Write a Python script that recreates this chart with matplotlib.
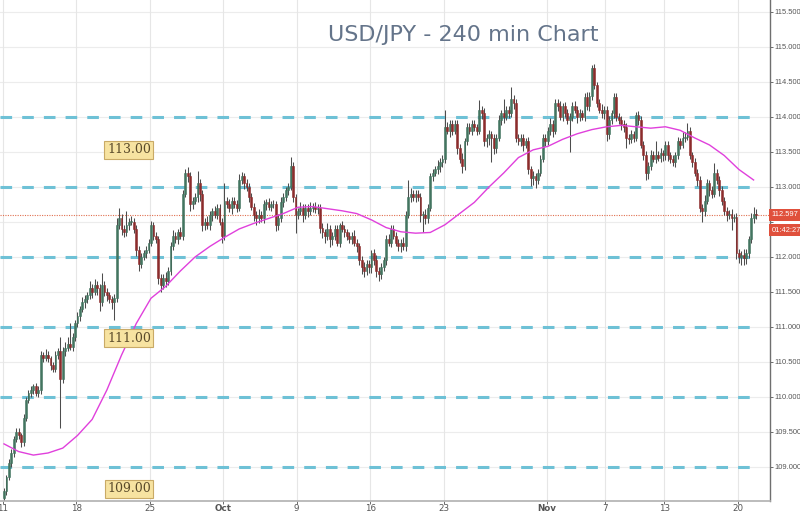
import matplotlib
matplotlib.use("Agg")
import matplotlib.pyplot as plt
import matplotlib.transforms as mtransforms
from matplotlib import font_manager
import numpy as np

# ---------------- data ----------------
title = "USD/JPY - 240 min Chart"
first_open = 108.55
closes = [
    108.65, 108.85, 109.05, 109.2, 109.4, 109.5, 109.45, 109.35, 109.7, 109.95,
    110.05, 110.1, 110.15, 110.05, 110.1, 110.6, 110.55, 110.6, 110.55, 110.45,
    110.4, 110.6, 110.65, 110.25, 110.65, 110.7, 110.75, 110.72, 110.85, 111.05,
    111.15, 111.25, 111.35, 111.4, 111.45, 111.55, 111.5, 111.6, 111.55, 111.35,
    111.6, 111.5, 111.45, 111.4, 111.35, 111.42, 112.45, 112.55, 112.4, 112.35,
    112.45, 112.5, 112.5, 112.4, 112.1, 111.9, 112.0, 112.05, 112.1, 112.2,
    112.45, 112.3, 112.25, 111.7, 111.6, 111.7, 111.65, 111.8, 112.15, 112.3,
    112.25, 112.35, 112.3, 112.9, 113.2, 113.15, 112.75, 112.8, 112.85, 113.05,
    112.9, 112.45, 112.5, 112.45, 112.6, 112.65, 112.6, 112.7, 112.5, 112.3,
    112.8, 112.75, 112.7, 112.8, 112.75, 112.7, 113.1, 113.15, 113.05, 113.0,
    112.85, 112.72, 112.6, 112.55, 112.6, 112.55, 112.75, 112.78, 112.72, 112.75,
    112.75, 112.45, 112.55, 112.78, 112.85, 112.95, 113.0, 113.3, 112.85, 112.6,
    112.65, 112.7, 112.6, 112.7, 112.65, 112.7, 112.72, 112.68, 112.7, 112.42,
    112.35, 112.3, 112.4, 112.25, 112.3, 112.4, 112.2, 112.45, 112.4, 112.35,
    112.3, 112.25, 112.3, 112.2, 112.15, 111.95, 111.85, 111.8, 111.9, 111.85,
    112.05, 111.95, 111.8, 111.75, 111.85, 111.95, 112.25, 112.2, 112.4, 112.3,
    112.2, 112.15, 112.2, 112.15, 112.6, 112.85, 112.9, 112.85, 112.9, 112.85,
    112.6, 112.6, 112.55, 112.7, 113.15, 113.2, 113.25, 113.3, 113.35, 113.4,
    113.85, 113.8, 113.9, 113.8, 113.9, 113.55, 113.4, 113.3, 113.65, 113.85,
    113.8, 113.9, 113.85, 113.8, 114.1, 114.05, 113.65, 113.7, 113.75, 113.7,
    113.55, 113.7, 113.95, 114.05, 114.0, 114.1, 114.05, 114.25, 114.2, 113.7,
    113.65, 113.7, 113.6, 113.65, 113.25, 113.13, 113.15, 113.1, 113.2, 113.4,
    113.7, 113.65, 113.8, 113.9, 113.8, 114.2, 114.15, 114.0, 114.15, 114.05,
    113.95, 114.0, 114.15, 114.1, 114.0, 114.05, 114.0, 114.28, 114.15, 114.3,
    114.7, 114.45, 114.2, 114.1, 114.05, 114.1, 113.75, 113.95, 114.05, 114.28,
    114.0, 113.95, 113.9, 113.85, 113.7, 113.68, 113.75, 113.7, 114.03, 113.95,
    113.6, 113.45, 113.2, 113.3, 113.45, 113.4, 113.45, 113.42, 113.48, 113.45,
    113.6, 113.45, 113.4, 113.35, 113.45, 113.65, 113.6, 113.7, 113.72, 113.8,
    113.45, 113.35, 113.2, 113.1, 112.7, 112.65, 112.8, 113.05, 112.95, 112.9,
    113.2, 113.1, 112.95, 112.8, 112.65, 112.6, 112.62, 112.55, 112.57, 112.05,
    112.0, 112.03, 111.98, 112.05, 112.25, 112.55, 112.62, 112.597,
]
upper_wick_pips = [
    5, 4, 6, 5, 4, 6, 5, 4, 6, 5,
    5, 6, 4, 5, 6, 5, 4, 8, 5, 4,
    5, 6, 5, 20, 6, 8, 10, 30, 6, 5,
    6, 5, 8, 6, 5, 10, 6, 8, 5, 6,
    17, 5, 6, 5, 4, 5, 10, 15, 6, 5,
    20, 6, 8, 5, 6, 5, 6, 5, 6, 5,
    6, 5, 6, 5, 6, 5, 8, 5, 6, 8,
    6, 5, 8, 6, 5, 8, 6, 5, 6, 18,
    6, 5, 6, 8, 6, 5, 8, 6, 5, 6,
    25, 6, 8, 6, 5, 6, 8, 6, 5, 6,
    5, 6, 5, 6, 8, 5, 6, 5, 6, 5,
    6, 5, 6, 8, 6, 5, 6, 13, 6, 5,
    5, 8, 6, 5, 6, 8, 5, 6, 5, 6,
    6, 5, 8, 6, 5, 6, 5, 4, 6, 5,
    5, 6, 5, 8, 6, 5, 6, 8, 5, 6,
    5, 6, 8, 5, 6, 5, 6, 8, 5, 6,
    6, 5, 6, 8, 5, 25, 8, 6, 5, 6,
    6, 5, 8, 6, 5, 6, 5, 8, 6, 5,
    25, 8, 6, 5, 6, 5, 6, 8, 5, 6,
    6, 5, 6, 5, 14, 6, 8, 5, 6, 5,
    5, 6, 8, 5, 20, 6, 5, 18, 6, 5,
    6, 5, 6, 5, 6, 5, 8, 5, 6, 5,
    6, 5, 6, 8, 5, 5, 6, 8, 5, 6,
    6, 5, 6, 8, 5, 6, 5, 6, 8, 5,
    4, 6, 5, 6, 8, 6, 5, 6, 5, 6,
    6, 5, 6, 5, 6, 5, 6, 5, 4, 6,
    6, 5, 6, 5, 8, 6, 20, 6, 8, 5,
    5, 6, 5, 6, 5, 6, 5, 8, 6, 11,
    6, 5, 6, 5, 6, 5, 8, 6, 5, 6,
    14, 6, 5, 6, 5, 6, 5, 6, 5, 6,
    6, 5, 8, 6, 5, 8, 9, 6,
]
lower_wick_pips = [
    6, 5, 4, 5, 6, 4, 5, 6, 5, 4,
    4, 5, 6, 4, 5, 6, 5, 4, 5, 6,
    5, 4, 6, 69, 5, 6, 4, 5, 6, 5,
    5, 6, 4, 8, 6, 5, 8, 5, 10, 12,
    5, 6, 8, 6, 10, 25, 6, 5, 8, 6,
    5, 6, 5, 6, 8, 10, 6, 5, 6, 5,
    5, 6, 5, 8, 10, 6, 8, 5, 6, 5,
    5, 6, 5, 6, 5, 8, 10, 6, 5, 6,
    10, 8, 6, 5, 6, 8, 5, 6, 5, 10,
    6, 5, 6, 8, 5, 6, 5, 6, 8, 6,
    6, 5, 8, 10, 6, 5, 6, 8, 5, 6,
    5, 8, 6, 5, 6, 5, 6, 5, 6, 26,
    6, 5, 10, 6, 8, 5, 6, 5, 6, 8,
    8, 10, 6, 11, 8, 6, 5, 6, 5, 6,
    6, 5, 6, 5, 8, 6, 10, 8, 6, 8,
    8, 6, 8, 10, 6, 5, 6, 5, 6, 5,
    5, 6, 8, 5, 6, 5, 6, 5, 6, 5,
    10, 25, 8, 6, 5, 6, 5, 6, 8, 6,
    6, 5, 8, 6, 5, 8, 6, 10, 6, 5,
    5, 6, 5, 6, 5, 8, 6, 8, 10, 35,
    8, 6, 5, 6, 8, 5, 6, 5, 8, 6,
    5, 6, 8, 5, 6, 12, 10, 12, 6, 5,
    5, 6, 5, 6, 8, 5, 6, 5, 6, 5,
    5, 45, 6, 5, 8, 6, 5, 6, 5, 6,
    6, 5, 6, 5, 6, 8, 10, 6, 5, 6,
    6, 5, 8, 6, 14, 6, 5, 6, 5, 6,
    5, 6, 10, 8, 6, 5, 6, 5, 6, 8,
    6, 8, 6, 5, 6, 5, 6, 5, 6, 5,
    5, 6, 5, 8, 6, 15, 6, 5, 8, 6,
    5, 6, 8, 6, 5, 8, 6, 16, 5, 8,
    8, 12, 10, 8, 6, 5, 6, 5,
]
# 50-period moving average, read every 6th candle
ma_index = list(range(0, 307, 6))
ma_values = [
    109.33, 109.22, 109.17, 109.2, 109.27, 109.45, 109.68, 110.1, 110.6, 111.05,
    111.41, 111.58, 111.8, 112.0, 112.15, 112.28, 112.4, 112.48, 112.55, 112.62,
    112.71, 112.72, 112.69, 112.66, 112.62, 112.53, 112.42, 112.36, 112.34, 112.35,
    112.46, 112.62, 112.78, 113.0, 113.2, 113.42, 113.53, 113.58, 113.68, 113.76,
    113.82, 113.86, 113.88, 113.86, 113.84, 113.86, 113.81, 113.7, 113.6, 113.45,
    113.25, 113.1,
]
tick_labels = ["11", "18", "25", "Oct", "9", "16", "23", "Nov", "7", "13", "20"]
tick_trading_day = [0, 5, 10, 15, 20, 25, 30, 37, 41, 45, 50]
candles_per_day = 6
level_lines = [109.0, 110.0, 111.0, 112.0, 113.0, 114.0]
level_labels = ["113.00", "111.00", "109.00"]
last_price = 112.597
countdown = "01:42:27"

# narrow font for the price scale if available
_names = {f.name for f in font_manager.fontManager.ttflist}
if "Liberation Sans Narrow" in _names:
    scale_font, scale_size = "Liberation Sans Narrow", 6.3
else:
    scale_font, scale_size = "Liberation Sans", 5.4

# ---------------- figure ----------------
W, H = 800, 513
fig = plt.figure(figsize=(W / 100, H / 100), dpi=100)
ax = fig.add_axes([0, 1 - 501 / H, 770 / W, 501 / H])
ax.set_facecolor("white")

n = len(closes)
x = np.arange(n)
c = np.array(closes)
o = np.concatenate([[first_open], c[:-1]])
hi = np.maximum(o, c) + np.array(upper_wick_pips) / 100.0
lo = np.minimum(o, c) - np.array(lower_wick_pips) / 100.0

ymin, ymax = 108.514, 115.671
ax.set_ylim(ymin, ymax)
ax.set_xlim(-1.63, 312.7)

# grid
yticks = np.arange(109.0, 115.51, 0.5)
for yv in yticks:
    ax.axhline(yv, color="#ececec", lw=0.8, zorder=0)
tick_pos = [candles_per_day * d - 0.5 for d in tick_trading_day]
for xv in tick_pos:
    ax.axvline(xv, color="#e6e6e6", lw=0.8, zorder=0)

# level lines
for lv in level_lines:
    ax.axhline(lv, xmin=0, xmax=757 / 770, color="#6ec1d6", lw=2.2,
               linestyle=(0, (3.8, 3.3)), zorder=1)

# last price dotted line
ax.axhline(last_price, color="#e07050", lw=0.8, linestyle=(0, (1, 1.2)), zorder=1)

# candles
up = c >= o
col_up, col_dn = "#437560", "#8c2c2c"
colors = np.where(up, col_up, col_dn)
ax.vlines(x, lo, hi, colors="#4d4d4d", lw=0.75, zorder=2)
body_h = np.maximum(np.abs(c - o), 0.012)
ax.bar(x, body_h, bottom=np.minimum(o, c), width=0.75, color=colors,
       edgecolor=colors, linewidth=0.4, zorder=3)

# moving average
ax.plot(ma_index, ma_values, color="#e040dc", lw=1.0, zorder=4)

# level labels
label_y = [113.53, 110.84, 108.69]
for txt, yv in zip(level_labels, label_y):
    ax.text(51, yv, txt, ha="center", va="center", fontsize=9,
            family="DejaVu Serif", color="#5a4a2a", zorder=5,
            bbox=dict(boxstyle="square,pad=0.2", fc="#f7e3a1", ec="#c9aa66", lw=0.8))

# title
fig.text(463 / W, 1 - 35 / H, title, ha="center", va="center",
         fontsize=16, color="#64748a")

# axes styling
for s in ["top", "left"]:
    ax.spines[s].set_visible(False)
ax.spines["right"].set_color("#6f6f6f")
ax.spines["right"].set_linewidth(1.0)
ax.spines["bottom"].set_color("#b0b0b0")
ax.spines["bottom"].set_linewidth(1.2)
ax.yaxis.tick_right()
ax.set_yticks(yticks)
# the 112.500 label sits under the last-price tag in the reference
ax.set_yticklabels(["" if abs(v - 112.5) < 1e-9 else f"{v:.3f}" for v in yticks],
                   family=scale_font)
ax.tick_params(axis="y", labelsize=scale_size, colors="#555555", length=2, pad=1.0, width=0.6)
ax.set_xticks(tick_pos)
ax.set_xticklabels(tick_labels)
for lbl in ax.get_xticklabels():
    if lbl.get_text() in ("Oct", "Nov"):
        lbl.set_fontweight("bold")
ax.tick_params(axis="x", labelsize=6.3, colors="#555555", length=2, pad=0.5, width=0.6)

# price tag + countdown
trans = mtransforms.blended_transform_factory(ax.transAxes, ax.transData)
ax.text(1.002, last_price + 0.005, f"{last_price:.3f}", transform=trans, ha="left", va="center",
        fontsize=scale_size, family=scale_font, color="white", clip_on=False, zorder=6,
        bbox=dict(boxstyle="square,pad=0.3", fc="#e0503c", ec="none"))
ax.text(1.002, last_price - 0.215, countdown, transform=trans, ha="left", va="center",
        fontsize=scale_size, family=scale_font, color="white", clip_on=False, zorder=6,
        bbox=dict(boxstyle="square,pad=0.3", fc="#e0503c", ec="none"))

fig.savefig("out.png", dpi=100)
